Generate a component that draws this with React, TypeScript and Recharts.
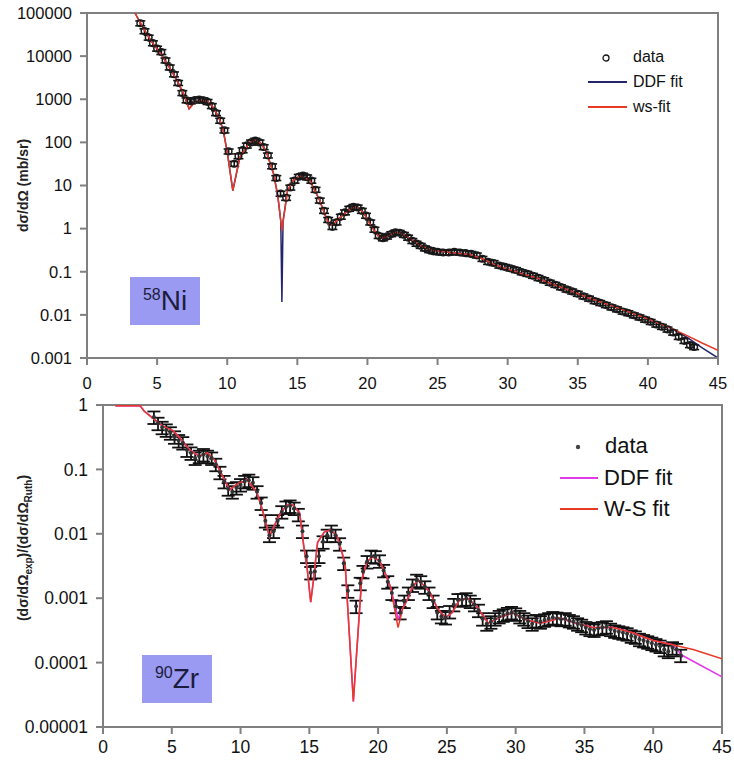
import { ComposedChart, Line, Scatter, ErrorBar, XAxis, YAxis, ReferenceArea } from 'recharts'

const ANGLE_TICKS = [0, 5, 10, 15, 20, 25, 30, 35, 40, 45]
const NI_TICKS = [0.001, 0.01, 0.1, 1, 10, 100, 1000, 10000, 100000]
const ZR_TICKS = [0.00001, 0.0001, 0.001, 0.01, 0.1, 1]

// 58Ni: measured cross section (mb/sr)
const NI_ANGLE = [
  3.8, 4.1, 4.4, 4.7, 5.0, 5.3, 5.6, 5.9, 6.2, 6.5, 6.8, 7.1, 7.4, 7.7, 8.0, 8.3, 8.6, 8.9, 9.2, 9.5,
  9.8, 10.1, 10.5, 10.8, 11.1, 11.4, 11.7, 12.0, 12.3, 12.6, 12.9, 13.2, 13.5, 13.8, 14.2, 14.5, 14.8,
  15.1, 15.4, 15.7, 16.0, 16.3, 16.6, 16.9, 17.2, 17.5, 17.8, 18.1, 18.4, 18.7, 19.0, 19.3, 19.6, 19.9,
  20.2, 20.5, 20.8, 21.1, 21.4, 21.7, 22.0, 22.3, 22.6, 22.9, 23.2, 23.5, 23.8, 24.1, 24.4, 24.7, 25.0,
  25.4, 25.8, 26.2, 26.6, 27.0, 27.4, 27.8, 28.2, 28.6, 29.0, 29.4, 29.8, 30.2, 30.6, 31.0, 31.4, 31.8,
  32.2, 32.6, 33.0, 33.4, 33.8, 34.2, 34.6, 35.0, 35.4, 35.8, 36.2, 36.6, 37.0, 37.4, 37.8, 38.2, 38.6,
  39.0, 39.4, 39.8, 40.2, 40.6, 41.0, 41.4, 41.8, 42.2, 42.6, 43.0, 43.3,
]
const NI_VALUE = [
  58000, 38000, 27000, 20000, 15000, 12500, 8000, 5500, 3800, 2400, 1400, 950, 900, 960, 980, 950, 870, 700, 480, 320,
  190, 62, 32, 48, 66, 85, 100, 110, 100, 78, 50, 28, 15, 6.5, 5.2, 9, 13,
  16, 17, 15.5, 13, 8, 4.5, 2.6, 1.6, 1.1, 1.4, 1.9, 2.4, 2.9, 3.2, 3.1, 2.6, 2.0,
  1.4, 0.95, 0.68, 0.6, 0.66, 0.75, 0.82, 0.8, 0.72, 0.62, 0.52, 0.45, 0.4, 0.35, 0.32, 0.3, 0.29,
  0.28, 0.28, 0.29, 0.28, 0.27, 0.26, 0.24, 0.2, 0.17, 0.16, 0.14, 0.13, 0.12, 0.11, 0.098, 0.09, 0.081,
  0.072, 0.064, 0.056, 0.05, 0.044, 0.039, 0.035, 0.031, 0.027, 0.024, 0.021, 0.019, 0.017, 0.015, 0.0135, 0.012, 0.011,
  0.0098, 0.0088, 0.0078, 0.0069, 0.006, 0.0053, 0.0046, 0.0039, 0.0031, 0.0025, 0.002, 0.0018,
]
const NI_REL_ERR = 0.13

const NI_WS_ANGLE = [
  3.42, 4.0, 4.6, 5.2, 5.8, 6.4, 6.9, 7.28, 7.6, 8.1, 8.6, 9.0, 9.4, 9.7, 10.0, 10.4, 10.9, 11.6, 12.0, 12.4,
  12.8, 13.3, 13.6, 13.9, 14.3, 14.7, 15.2, 15.9, 16.6, 17.0, 17.3, 17.7, 18.2, 18.8, 19.2, 19.7, 20.3, 20.9,
  21.4, 22.0, 22.5, 23.0, 23.8, 24.7, 25.9, 27.3, 28.2, 29.0, 29.7, 31.0, 32.1, 33.3, 34.5, 35.6, 36.8, 38.0,
  39.2, 40.4, 41.6, 42.8, 43.9, 45,
]
const NI_WS_VALUE = [
  100000, 45000, 22000, 12000, 6000, 2800, 1300, 600, 800, 950, 900, 650, 380, 200, 60, 7.6, 45, 100, 112, 95,
  60, 19, 6, 0.9, 7.6, 13, 17, 13, 4.5, 2.0, 1.2, 1.4, 2.0, 2.9, 3.2, 2.4, 1.1, 0.6,
  0.65, 0.82, 0.76, 0.6, 0.4, 0.31, 0.28, 0.25, 0.2, 0.15, 0.124, 0.09, 0.072, 0.05, 0.036, 0.026, 0.019, 0.014,
  0.01, 0.0072, 0.005, 0.0033, 0.0022, 0.0015,
]
const NI_DDF_ANGLE = [
  3.42, 4.0, 4.6, 5.2, 5.8, 6.4, 6.9, 7.28, 7.6, 8.1, 8.6, 9.0, 9.4, 9.7, 10.0, 10.4, 10.9, 11.6, 12.0, 12.4,
  12.8, 13.3, 13.6, 13.82, 13.9, 13.98, 14.3, 14.7, 15.2, 15.9, 16.6, 17.0, 17.3, 17.7, 18.2, 18.8, 19.2, 19.7,
  20.3, 20.9, 21.4, 22.0, 22.5, 23.0, 23.8, 24.7, 25.9, 27.3, 28.2, 29.0, 29.7, 31.0, 32.1, 33.3, 34.5, 35.6,
  36.8, 38.0, 39.2, 40.4, 41.6, 42.8, 43.9, 45,
]
const NI_DDF_VALUE = [
  100000, 45000, 22000, 12000, 6000, 2800, 1300, 600, 800, 950, 900, 650, 380, 200, 60, 7.6, 45, 100, 112, 95,
  60, 19, 6, 1.5, 0.02, 1.5, 7.6, 13, 17, 13, 4.5, 2.0, 1.2, 1.4, 2.0, 2.9, 3.2, 2.4,
  1.1, 0.6, 0.65, 0.82, 0.76, 0.6, 0.4, 0.31, 0.28, 0.25, 0.2, 0.15, 0.124, 0.09, 0.072, 0.05, 0.036, 0.026,
  0.019, 0.014, 0.01, 0.0072, 0.005, 0.003, 0.0017, 0.001,
]

// 90Zr: ratio to Rutherford
const ZR_ANGLE = [
  3.7, 4.0, 4.3, 4.6, 4.9, 5.2, 5.5, 5.8, 6.1, 6.4, 6.7, 7.0, 7.3, 7.6, 7.9, 8.2, 8.5, 8.8, 9.1, 9.4,
  9.7, 10.0, 10.3, 10.6, 10.9, 11.2, 11.5, 11.8, 12.1, 12.4, 12.7, 13.0, 13.3, 13.6, 13.9, 14.2, 14.5,
  14.8, 15.1, 15.4, 15.7, 16.0, 16.3, 16.6, 16.9, 17.2, 17.5, 17.8, 18.4, 18.7, 18.9, 19.2, 19.5, 19.8,
  20.1, 20.4, 20.7, 21.0, 21.3, 21.6, 21.9, 22.2, 22.5, 22.8, 23.1, 23.4, 23.7, 24.0, 24.3, 24.6, 24.9,
  25.2, 25.5, 25.8, 26.1, 26.4, 26.7, 27.0, 27.3, 27.6, 27.9, 28.2, 28.5, 28.8, 29.1, 29.4, 29.7, 30.0,
  30.3, 30.6, 30.9, 31.2, 31.5, 31.8, 32.1, 32.4, 32.7, 33.0, 33.3, 33.6, 33.9, 34.2, 34.5, 34.8, 35.1,
  35.4, 35.7, 36.0, 36.3, 36.6, 36.9, 37.2, 37.5, 37.8, 38.1, 38.4, 38.7, 39.0, 39.3, 39.6, 39.9, 40.2,
  40.5, 40.8, 41.1, 41.4, 41.7, 42.0,
]
const ZR_VALUE = [
  0.65, 0.52, 0.45, 0.41, 0.37, 0.32, 0.28, 0.26, 0.2, 0.18, 0.15, 0.16, 0.17, 0.16, 0.15, 0.12, 0.09, 0.065, 0.05, 0.045,
  0.052, 0.058, 0.065, 0.068, 0.062, 0.045, 0.03, 0.016, 0.0095, 0.011, 0.016, 0.022, 0.026, 0.027, 0.025, 0.02, 0.011,
  0.0045, 0.0025, 0.0026, 0.0045, 0.0075, 0.0095, 0.011, 0.0095, 0.007, 0.0035, 0.0013, 0.00075, 0.0017, 0.0026, 0.0037, 0.0045, 0.0044,
  0.0038, 0.0027, 0.0018, 0.0012, 0.00075, 0.0006, 0.0009, 0.0012, 0.0016, 0.0019, 0.0018, 0.0015, 0.0012, 0.0009, 0.0006, 0.00052, 0.0005,
  0.00062, 0.0008, 0.00095, 0.00095, 0.00098, 0.0009, 0.0008, 0.00065, 0.00048, 0.0004, 0.00043, 0.00048, 0.00052, 0.00055, 0.00058, 0.0006, 0.00057,
  0.00052, 0.00048, 0.00044, 0.0004, 0.00045, 0.00043, 0.00046, 0.00048, 0.0005, 0.00049, 0.00047, 0.00048, 0.00045, 0.00043, 0.0004, 0.00038, 0.00035,
  0.00033, 0.00032, 0.00034, 0.00035, 0.00036, 0.00033, 0.00031, 0.0003, 0.00029, 0.00028, 0.00026, 0.00025, 0.00023, 0.00022, 0.00021, 0.0002, 0.00019,
  0.00018, 0.00016, 0.00015, 0.00017, 0.00016, 0.00013,
]
const ZR_REL_ERR = 0.22

const ZR_WS_ANGLE = [
  0.9, 2.7, 3.0, 3.6, 4.4, 5.1, 5.7, 6.3, 7.0, 7.6, 8.1, 8.6, 9.2, 9.8, 10.5, 11.2, 11.6, 12.1, 12.5, 12.9,
  13.4, 13.8, 14.3, 14.6, 14.85, 15.1, 15.3, 15.6, 16.1, 16.5, 17.0, 17.6, 18.2, 18.8, 19.2, 19.6, 20.1, 20.5,
  20.9, 21.45, 21.8, 22.1, 22.5, 22.9, 23.3, 23.8, 24.3, 24.9, 25.4, 25.9, 26.5, 27.2, 28.0, 28.9, 29.8, 30.8,
  31.8, 33.2, 34.4, 35.6, 37.1, 38.5, 40.0, 41.4, 42.9, 45,
]
const ZR_WS_VALUE = [
  0.97, 0.97, 0.8, 0.63, 0.46, 0.4, 0.29, 0.2, 0.16, 0.18, 0.14, 0.087, 0.048, 0.06, 0.069, 0.043, 0.023, 0.009, 0.014, 0.021,
  0.028, 0.028, 0.021, 0.0063, 0.0028, 0.00087, 0.0019, 0.0074, 0.0107, 0.0114, 0.0095, 0.0035, 0.000025, 0.0019, 0.0037, 0.0044, 0.0038, 0.0025,
  0.0015, 0.00035, 0.0007, 0.00093, 0.0015, 0.0019, 0.0016, 0.0012, 0.0007, 0.0005, 0.0006, 0.00093, 0.001, 0.00073, 0.00041, 0.00051, 0.00059, 0.00046,
  0.00041, 0.00049, 0.00041, 0.00035, 0.00035, 0.00029, 0.00022, 0.00019, 0.00016, 0.000115,
]
const ZR_DDF_ANGLE = [
  0.9, 2.7, 3.0, 3.6, 4.4, 5.1, 5.7, 6.3, 7.0, 7.6, 8.1, 8.6, 9.2, 9.8, 10.5, 11.2, 11.6, 12.1, 12.5, 12.9,
  13.4, 13.8, 14.3, 14.6, 14.85, 15.1, 15.3, 15.6, 16.1, 16.5, 17.0, 17.6, 18.2, 18.8, 19.2, 19.6, 20.1, 20.5,
  20.9, 21.45, 21.8, 22.1, 22.5, 22.9, 23.3, 23.8, 24.3, 24.9, 25.4, 25.9, 26.5, 27.2, 28.0, 28.9, 29.8, 30.8,
  31.8, 33.2, 34.4, 35.6, 37.1, 38.5, 40.0, 41.4, 42.1, 45,
]
const ZR_DDF_VALUE = [
  0.97, 0.97, 0.8, 0.63, 0.46, 0.4, 0.29, 0.2, 0.16, 0.18, 0.14, 0.087, 0.048, 0.06, 0.069, 0.043, 0.023, 0.009, 0.014, 0.021,
  0.028, 0.028, 0.021, 0.0063, 0.0028, 0.00087, 0.0019, 0.0074, 0.0107, 0.0114, 0.0095, 0.0035, 0.000025, 0.0019, 0.0037, 0.0044, 0.0038, 0.0025,
  0.0015, 0.00048, 0.0007, 0.00093, 0.0015, 0.0019, 0.0016, 0.0012, 0.0007, 0.0005, 0.0006, 0.00093, 0.001, 0.00073, 0.00041, 0.00051, 0.00059, 0.00046,
  0.00041, 0.00049, 0.00041, 0.00035, 0.00035, 0.00029, 0.00022, 0.00019, 0.00013, 0.00006,
]

const AXIS_GRAY = '#808080'
const NAVY = '#25256e'
const RED = '#e63a26'
const MAGENTA = '#e23ae6'
const BOX = '#9a9af2'
const FONT = '"Liberation Sans", Arial, sans-serif'

const toPoints = (xs: number[], ys: number[], rel?: number) =>
  xs.map((x, i) => (rel ? { x, y: ys[i], err: ys[i] * rel } : { x, y: ys[i] }))

const niData = toPoints(NI_ANGLE, NI_VALUE, NI_REL_ERR)
const niWs = toPoints(NI_WS_ANGLE, NI_WS_VALUE)
const niDdf = toPoints(NI_DDF_ANGLE, NI_DDF_VALUE)
const zrData = toPoints(ZR_ANGLE, ZR_VALUE, ZR_REL_ERR)
const zrWs = toPoints(ZR_WS_ANGLE, ZR_WS_VALUE)
const zrDdf = toPoints(ZR_DDF_ANGLE, ZR_DDF_VALUE)

function AxisTitle({ viewBox, shift = 0, children }: any) {
  const cy = viewBox.y + viewBox.height / 2 + shift
  return (
    <text x={23} y={cy} transform={`rotate(-90 23 ${cy})`} textAnchor="middle" dominantBaseline="central"
      fontSize={14} fontWeight="bold" fill="#222" fontFamily={FONT}>
      {children}
    </text>
  )
}

const OpenDot = (p: any) => <circle cx={p.cx} cy={p.cy} r={3.3} fill="none" stroke="#1a1a1a" strokeWidth={1.5} />
const SmallDot = (p: any) => <circle cx={p.cx} cy={p.cy} r={2} fill="#333" />

function LegendRow({ top, left, color, label, size, lineW }: any) {
  return (
    <div style={{ position: 'absolute', top, left, display: 'flex', alignItems: 'center', fontSize: size, color: '#111', lineHeight: 1 }}>
      <div style={{ width: lineW, height: 2, background: color, marginRight: 6 }} />
      {label}
    </div>
  )
}

export default function App() {
  return (
    <div style={{ position: 'absolute', left: 0, top: 0, width: 734, height: 765, background: '#fff', fontFamily: FONT, overflow: 'hidden' }}>
      {/* 58Ni */}
      <div style={{ position: 'absolute', left: 0, top: 0 }}>
        <ComposedChart width={734} height={400} margin={{ top: 13, right: 16, bottom: 0, left: 0 }}>
          <XAxis dataKey="x" type="number" domain={[0, 45]} ticks={ANGLE_TICKS} allowDataOverflow height={42}
            axisLine={{ stroke: AXIS_GRAY, strokeWidth: 2 }} tickLine={{ stroke: AXIS_GRAY, strokeWidth: 2 }} tickSize={7} tickMargin={12}
            tick={{ fontSize: 16.5, fill: '#111' }} />
          <YAxis dataKey="y" type="number" scale="log" domain={[0.001, 100000]} ticks={NI_TICKS} allowDataOverflow width={87}
            axisLine={{ stroke: AXIS_GRAY, strokeWidth: 2 }} tickLine={{ stroke: AXIS_GRAY, strokeWidth: 2 }} tickSize={7} tickMargin={8}
            tick={{ fontSize: 16.5, fill: '#111' }} tickFormatter={(v) => String(v)}
            label={<AxisTitle>dσ/dΩ (mb/sr)</AxisTitle>} />
          <ReferenceArea x1={0} x2={45} y1={0.001} y2={100000} fill="none" stroke={AXIS_GRAY} strokeWidth={2} />
          <Scatter data={niData} shape={OpenDot} isAnimationActive={false}>
            <ErrorBar dataKey="err" direction="y" width={5} stroke="#111" strokeWidth={1.6} />
          </Scatter>
          <Line data={niDdf} dataKey="y" type="linear" stroke={NAVY} strokeWidth={1.5} dot={false} isAnimationActive={false} />
          <Line data={niWs} dataKey="y" type="linear" stroke={RED} strokeWidth={1.5} dot={false} isAnimationActive={false} />
        </ComposedChart>
      </div>

      <svg style={{ position: 'absolute', left: 602, top: 54 }} width={8} height={8}>
        <circle cx={4} cy={4} r={3} fill="none" stroke="#111" strokeWidth={1.3} />
      </svg>
      <div style={{ position: 'absolute', left: 633, top: 49, fontSize: 16, lineHeight: 1, color: '#111' }}>data</div>
      <LegendRow top={74} left={588} color={NAVY} label="DDF fit" size={16} lineW={39} />
      <LegendRow top={99} left={588} color={RED} label="ws-fit" size={16} lineW={39} />

      <div style={{ position: 'absolute', left: 130, top: 277, width: 70, height: 48, background: BOX, display: 'flex', alignItems: 'center', justifyContent: 'center', color: '#1c1c3c' }}>
        <span style={{ fontSize: 28, lineHeight: 1 }}><sup style={{ fontSize: 16, verticalAlign: 10 }}>58</sup>Ni</span>
      </div>

      {/* 90Zr */}
      <div style={{ position: 'absolute', left: 0, top: 380 }}>
        <ComposedChart width={734} height={385} margin={{ top: 25, right: 12, bottom: 0, left: 0 }}>
          <XAxis dataKey="x" type="number" domain={[0, 45]} ticks={ANGLE_TICKS} allowDataOverflow height={38}
            axisLine={{ stroke: AXIS_GRAY, strokeWidth: 2 }} tickLine={{ stroke: AXIS_GRAY, strokeWidth: 2 }} tickSize={7} tickMargin={7}
            tick={{ fontSize: 17.5, fill: '#111' }} />
          <YAxis dataKey="y" type="number" scale="log" domain={[0.00001, 1]} ticks={ZR_TICKS} allowDataOverflow width={103}
            axisLine={{ stroke: AXIS_GRAY, strokeWidth: 2 }} tickLine={{ stroke: AXIS_GRAY, strokeWidth: 2 }} tickSize={7} tickMargin={8}
            tick={{ fontSize: 17.5, fill: '#111' }} tickFormatter={(v) => String(v)}
            label={
              <AxisTitle shift={-18}>
                (dσ/dΩ<tspan baselineShift="sub" fontSize={10}>exp</tspan>)/(dσ/dΩ<tspan baselineShift="sub" fontSize={10}>Ruth</tspan>)
              </AxisTitle>
            } />
          <ReferenceArea x1={0} x2={45} y1={0.00001} y2={1} fill="none" stroke={AXIS_GRAY} strokeWidth={2} />
          <Scatter data={zrData} shape={SmallDot} isAnimationActive={false}>
            <ErrorBar dataKey="err" direction="y" width={6.5} stroke="#111" strokeWidth={1.8} />
          </Scatter>
          <Line data={zrDdf} dataKey="y" type="linear" stroke={MAGENTA} strokeWidth={1.6} dot={false} isAnimationActive={false} />
          <Line data={zrWs} dataKey="y" type="linear" stroke={RED} strokeWidth={1.5} dot={false} isAnimationActive={false} />
        </ComposedChart>
      </div>

      <svg style={{ position: 'absolute', left: 574, top: 443 }} width={8} height={8}>
        <circle cx={4} cy={4} r={2.2} fill="#444" />
      </svg>
      <div style={{ position: 'absolute', left: 605, top: 435, fontSize: 22, lineHeight: 1, color: '#111' }}>data</div>
      <LegendRow top={467} left={560} color={MAGENTA} label="DDF fit" size={22} lineW={38} />
      <LegendRow top={498} left={560} color={RED} label="W-S fit" size={22} lineW={38} />

      <div style={{ position: 'absolute', left: 142, top: 655, width: 70, height: 48, background: BOX, display: 'flex', alignItems: 'center', justifyContent: 'center', color: '#1c1c3c' }}>
        <span style={{ fontSize: 28, lineHeight: 1 }}><sup style={{ fontSize: 16, verticalAlign: 10 }}>90</sup>Zr</span>
      </div>
    </div>
  )
}
